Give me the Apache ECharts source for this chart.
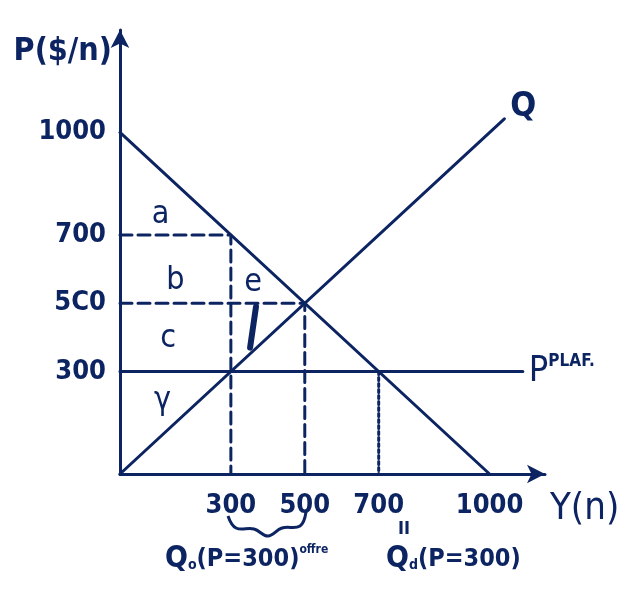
<!DOCTYPE html>
<html>
<head>
<meta charset="utf-8">
<script src="https://cdn.jsdelivr.net/npm/echarts@6/dist/echarts.min.js"></script>
<style>
  html, body { margin: 0; padding: 0; background: #ffffff; }
  #chart { width: 639px; height: 601px; }
</style>
</head>
<body>
<div id="chart"></div>
<script>
// Price floor diagram: demand, supply and a "prix plafond/plancher" line at P = 300
const INK = '#0c2461';
const FONT = '"DejaVu Sans Condensed", "DejaVu Sans", sans-serif';

// Quantities and prices
const demandLine = [[0, 1000], [1000, 0]];
const supplyLine = [[0, 0], [1040, 1040]];
const floorPrice = 300;
const floorLine = [[0, floorPrice], [1090, floorPrice]];

// Guide lines
const guide700 = [[0, 700], [300, 700], [300, 0]];
const guide500 = [[0, 500], [500, 500], [500, 0]];
const guideQd = [[700, 300], [700, 0]];
const arrowMark = [[368, 490], [352, 370]];

// Tick labels
const priceTicks = [300, 500, 700, 1000];
const priceTickText = { 300: '300', 500: '5C0', 700: '700', 1000: '1000' };
const qtyTicks = [300, 500, 700, 1000];

// Area labels
const areaLabels = [
  { name: 'a', value: [110, 760] },
  { name: 'b', value: [150, 565] },
  { name: 'c', value: [130, 395] },
  { name: 'γ', value: [115, 215] },
  { name: 'e', value: [360, 560] }
];

const chart = echarts.init(document.getElementById('chart'), null, { renderer: 'canvas' });

function seg(data, type, width) {
  return {
    type: 'line', data: data, symbol: 'none', silent: true, z: 3,
    lineStyle: { color: INK, width: width || 3, type: type || 'solid', cap: 'round' }
  };
}

const option = {
  backgroundColor: '#ffffff',
  animation: false,
  grid: { left: 120, right: 94, top: 30, bottom: 127 },
  xAxis: {
    type: 'value', min: 0, max: 1150,
    splitLine: { show: false },
    axisTick: { show: false },
    axisLine: { show: true, symbol: ['none', 'arrow'], symbolSize: [14, 18], lineStyle: { color: INK, width: 3 } },
    axisLabel: {
      customValues: qtyTicks, color: INK, fontFamily: FONT, fontSize: 27, fontWeight: 'bold', margin: 18,
      formatter: v => String(v)
    }
  },
  yAxis: {
    type: 'value', min: 0, max: 1300,
    splitLine: { show: false },
    axisTick: { show: false },
    axisLine: { show: true, symbol: ['none', 'arrow'], symbolSize: [14, 18], lineStyle: { color: INK, width: 3 } },
    axisLabel: {
      customValues: priceTicks, color: INK, fontFamily: FONT, fontSize: 27, fontWeight: 'bold', margin: 14,
      formatter: v => priceTickText[v] || String(v)
    },
    name: 'P($/n)', nameLocation: 'end', nameGap: -6,
    nameTextStyle: { color: INK, fontFamily: FONT, fontSize: 32, fontWeight: 'bold', align: 'right', verticalAlign: 'top', padding: [0, 8, 0, 0] }
  },
  series: [
    seg(demandLine),
    Object.assign(seg(supplyLine), {
      endLabel: { show: true, formatter: 'Q', color: INK, fontFamily: FONT, fontSize: 34, fontWeight: 'bold', distance: 6, offset: [0, -12] }
    }),
    Object.assign(seg(floorLine), {
      endLabel: {
        show: true, formatter: '{p|P}{s|PLAF.}', distance: 6,
        rich: {
          p: { color: INK, fontFamily: FONT, fontSize: 36 },
          s: { color: INK, fontFamily: FONT, fontSize: 17, fontWeight: 'bold', verticalAlign: 'top', padding: [0, 0, 16, 0] }
        }
      }
    }),
    seg(guide700, 'dashed', 3),
    seg(guide500, 'dashed', 3),
    seg(guideQd, 'dotted', 3),
    seg(arrowMark, 'solid', 6),
    {
      type: 'scatter', data: areaLabels, symbolSize: 0, silent: true, z: 4,
      itemStyle: { color: INK, opacity: 1 },
      label: {
        show: true, position: 'inside', formatter: p => p.name,
        color: INK, fontFamily: FONT, fontSize: 32, textBorderWidth: 0, opacity: 1
      }
    }
  ],
  graphic: [
    // quantity axis title
    { type: 'text', left: 550, top: 490, style: { text: 'Y(n)', fill: INK, font: '38px ' + FONT } },
    {
      type: 'polyline', silent: true,
      shape: { points: [[228, 516], [236, 528], [254, 529], [268, 536], [282, 528], [300, 526], [306, 512]], smooth: 0.4 },
      style: { fill: 'none', stroke: INK, lineWidth: 3 }
    },
    {
      type: 'text', left: 165, top: 544,
      style: {
        text: '{q|Q}{sub|o}{t|(P=300)}{sup|offre}',
        rich: {
          q: { fill: INK, fontFamily: FONT, fontSize: 30, fontWeight: 'bold' },
          sub: { fill: INK, fontFamily: FONT, fontSize: 14, fontWeight: 'bold', padding: [12, 0, 0, 0] },
          t: { fill: INK, fontFamily: FONT, fontSize: 25, fontWeight: 'bold' },
          sup: { fill: INK, fontFamily: FONT, fontSize: 12, fontWeight: 'bold', padding: [0, 0, 18, 0] }
        }
      }
    },
    { type: 'text', left: 398, top: 520, style: { text: 'II', fill: INK, font: 'bold 18px ' + FONT } },
    {
      type: 'text', left: 386, top: 544,
      style: {
        text: '{q|Q}{sub|d}{t|(P=300)}',
        rich: {
          q: { fill: INK, fontFamily: FONT, fontSize: 30, fontWeight: 'bold' },
          sub: { fill: INK, fontFamily: FONT, fontSize: 14, fontWeight: 'bold', padding: [12, 0, 0, 0] },
          t: { fill: INK, fontFamily: FONT, fontSize: 25, fontWeight: 'bold' }
        }
      }
    }
  ]
};

chart.setOption(option);
</script>
</body>
</html>
